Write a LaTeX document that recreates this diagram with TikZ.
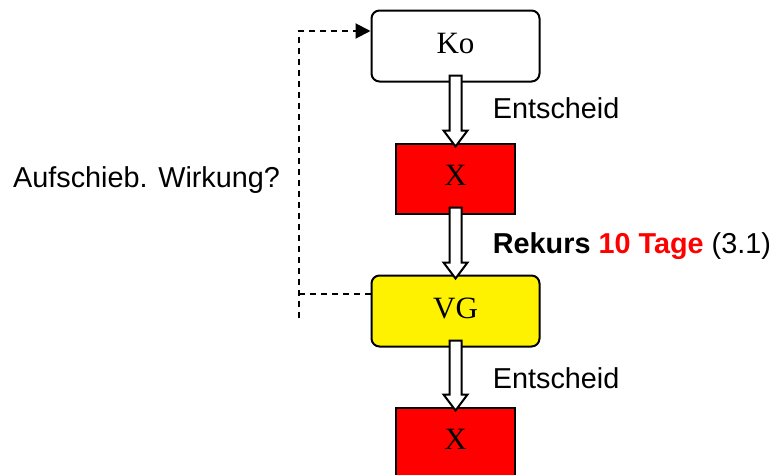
\documentclass[tikz,border=0pt]{standalone}
\usepackage{fontspec}
\setmainfont{Liberation Serif}
\setsansfont{Liberation Sans}
\usetikzlibrary{positioning,calc,arrows.meta}

\tikzset{
  kasten/.style={draw, line width=2pt, rounded corners=8pt, minimum width=168pt,
    minimum height=71pt, inner sep=0pt, text depth=6pt, font=\fontsize{31}{36}\selectfont},
  rotkasten/.style={kasten, sharp corners, fill=red, minimum width=119pt, minimum height=70pt},
  beschriftung/.style={anchor=base west, inner sep=0pt, font=\sffamily\fontsize{28.8}{34}\selectfont},
  blockpfeil/.style={draw, fill=white, line width=2pt, line join=miter},
  gestrichelt/.style={line width=2pt, dash pattern=on 6pt off 5pt},
}

\begin{document}
\begin{tikzpicture}[x=1pt,y=-1pt]
  \useasboundingbox (0,0) rectangle (783,474);

  % Kaesten
  \node[kasten] (ko) at (455.5,46) {Ko};
  \node[rotkasten, below=60pt of ko] (x1) {X};
  \node[kasten, fill=yellow, below=60pt of x1] (vg) {VG};
  \node[rotkasten, below=59pt of vg] (x2) {X};

  % Blockpfeile
  \foreach \von/\nach in {ko/x1, x1/vg, vg/x2}
    \draw[blockpfeil] ($(\von.south)+(-6,-7)$) -- ($(\nach.north)+(-6,-12)$) -- ++(-6,0)
      -- ($(\nach.north)+(0,4)$) -- ($(\nach.north)+(12,-12)$) -- ++(-6,0)
      -- ($(\von.south)+(6,-7)$) -- cycle;

  % Rueckweg (gestrichelt)
  \coordinate (oben) at (299,31);
  \coordinate (unten) at (299,318);
  \coordinate (abzw) at (299,294);
  \draw[gestrichelt, -{Triangle[length=15pt,width=15pt]}] (unten) -- (oben) -- (oben -| ko.west);
  \draw[gestrichelt] (abzw) -- (abzw -| vg.west);

  % Beschriftungen
  \node[beschriftung] (ent1) at (492.7,118) {Entscheid};
  \node[beschriftung] (rekurs) at (492.7,253) {\textbf{Rekurs \textcolor{red}{10 Tage}} (3.1)};
  \node[beschriftung] (ent2) at (492.7,388) {Entscheid};
  \node[beschriftung] (aufschub) at (13,187) {Aufschieb. Wirkung?};
\end{tikzpicture}
\end{document}
